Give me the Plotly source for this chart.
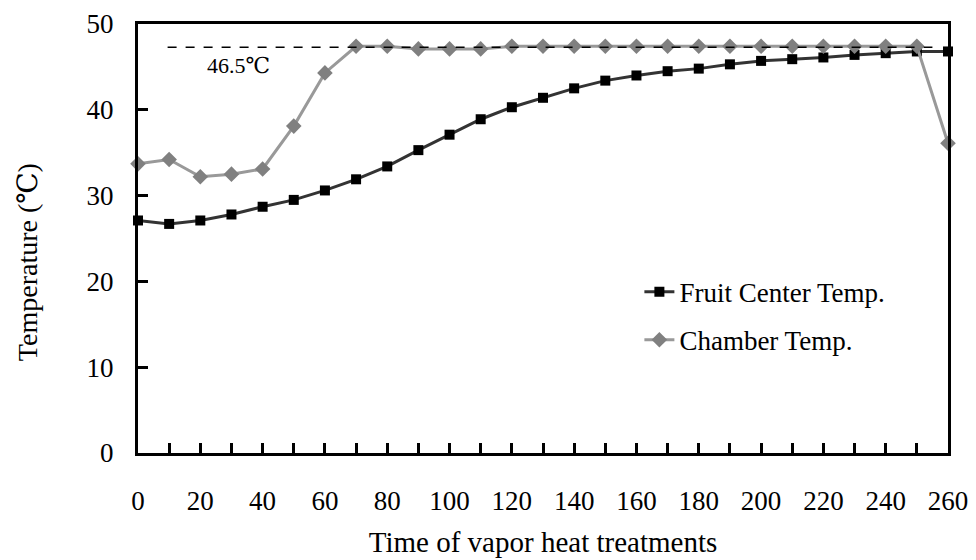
import plotly.graph_objects as go

time_min = [0, 10, 20, 30, 40, 50, 60, 70, 80, 90, 100, 110, 120, 130, 140, 150, 160, 170, 180, 190, 200, 210, 220, 230, 240, 250, 260]
fruit_center = [27.1, 26.7, 27.1, 27.8, 28.7, 29.5, 30.6, 31.9, 33.4, 35.3, 37.1, 38.9, 40.3, 41.4, 42.5, 43.4, 44.0, 44.5, 44.8, 45.3, 45.7, 45.9, 46.1, 46.4, 46.6, 46.8, 46.8]
chamber = [33.7, 34.2, 32.2, 32.5, 33.1, 38.1, 44.3, 47.4, 47.4, 47.1, 47.1, 47.1, 47.4, 47.4, 47.4, 47.4, 47.4, 47.4, 47.4, 47.4, 47.4, 47.4, 47.4, 47.4, 47.4, 47.4, 36.1]
ref_line_x = [9.5, 255]
ref_line_y = 47.3
ref_label = "46.5℃"
y_title = "Temperature (℃)"
x_title = "Time of vapor heat treatments"

FONT = "Liberation Serif, DejaVu Serif, Times New Roman, serif"

fig = go.Figure()
fig.add_trace(go.Scatter(
    x=time_min, y=fruit_center, name="Fruit Center Temp.", mode="lines+markers",
    line=dict(color="#333333", width=3),
    marker=dict(symbol="square", size=10, color="black"),
    cliponaxis=False, legendgroup="a"))
fig.add_trace(go.Scatter(
    x=time_min, y=chamber, name="Chamber Temp.", mode="lines+markers",
    line=dict(color="#999999", width=3),
    marker=dict(symbol="diamond", size=12, color="#808080"),
    cliponaxis=False, legendgroup="b"))

fig.add_shape(type="line", xref="x", yref="y", x0=ref_line_x[0], x1=ref_line_x[1],
              y0=ref_line_y, y1=ref_line_y, line=dict(color="black", width=1.5, dash="dash"))
fig.add_annotation(x=32.4, y=45.2, xref="x", yref="y", text=ref_label, showarrow=False,
                   font=dict(family=FONT, size=22, color="black"))
# y-axis title (placed slightly below the plot centre, as in the reference)
fig.add_annotation(x=-0.137, y=0.445, xref="paper", yref="paper", text=y_title, showarrow=False,
                   textangle=-90, xanchor="center", yanchor="middle",
                   font=dict(family=FONT, size=28, color="black"))

# page body has an 8px margin, so the figure is sized to fit the 976x560 window
fig.update_layout(
    width=968, height=552,
    margin=dict(l=130, r=28, t=16, b=107, autoexpand=False),
    paper_bgcolor="white", plot_bgcolor="white",
    font=dict(family=FONT, size=24, color="black"),
    showlegend=True,
    legend=dict(x=0.619, y=0.319, xanchor="left", yanchor="middle",
                bgcolor="rgba(0,0,0,0)", font=dict(family=FONT, size=27),
                tracegroupgap=10, traceorder="grouped", itemwidth=30),
    xaxis=dict(range=[0, 260], dtick=20, tick0=0, ticks="inside", ticklen=10, tickwidth=3,
               tickcolor="black", showline=True, linecolor="black", linewidth=3, mirror=True,
               showgrid=False, zeroline=False, ticklabelstandoff=22, automargin=False,
               minor=dict(dtick=10, ticks="inside", ticklen=10, tickwidth=3, tickcolor="black", showgrid=False),
               title=dict(text=x_title, standoff=17, font=dict(family=FONT, size=29)),
               tickfont=dict(family=FONT, size=27)),
    yaxis=dict(range=[0, 50], dtick=10, ticks="inside", ticklen=10, tickwidth=3,
               tickcolor="black", showline=True, linecolor="black", linewidth=3, mirror=True,
               showgrid=False, zeroline=False, ticklabelstandoff=16, automargin=False,
               tickfont=dict(family=FONT, size=27)),
)

fig.write_html("out.html")
